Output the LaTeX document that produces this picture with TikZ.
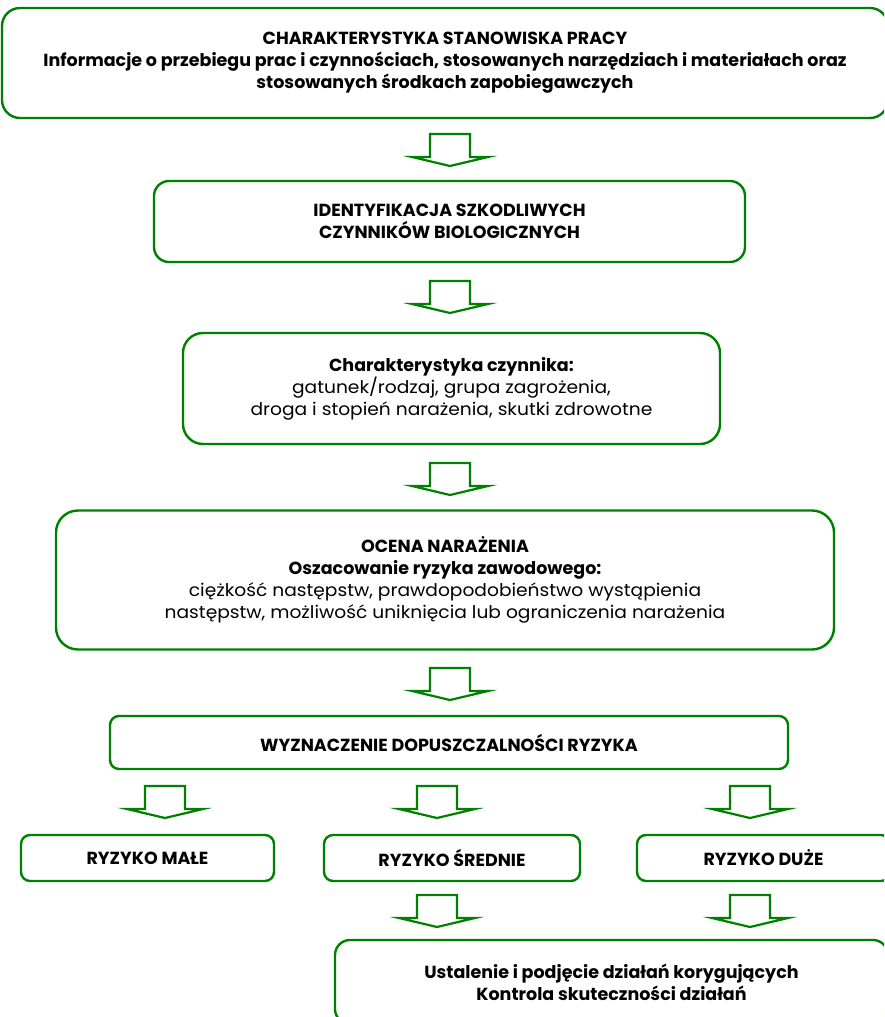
\documentclass[tikz,border=0pt]{standalone}
\usepackage{fontspec}
\setmainfont{Poppins}[UprightFeatures={FakeStretch=1.065}]
\usepackage{tikz}
\usetikzlibrary{calc}

\definecolor{boxgreen}{RGB}{0,128,0}

\tikzset{
  stepbox/.style={draw=boxgreen, line width=2.4pt, align=center, inner sep=2pt,
    font=\fontsize{17.5}{22}\selectfont},
  arrowline/.style={draw=boxgreen, line width=2.2pt, fill=white, line join=miter},
  pics/downarrow/.style={code={
    \draw[arrowline] (-20,0) -- (20,0) -- (20,23) -- (38,23) -- (0,32) -- (-38,23) -- (-20,23) -- cycle;
  }}
}

\begin{document}
\begin{tikzpicture}[x=1pt, y=-1pt]
  \clip (0,0) rectangle (884,1017);

  % boxes
  \node[stepbox, rounded corners=18pt, minimum width=886pt, minimum height=110pt] (charst) at (445,63)
    {\textbf{CHARAKTERYSTYKA STANOWISKA PRACY}\\
     \textbf{Informacje o przebiegu prac i czynnościach, stosowanych narzędziach i materiałach oraz}\\
     \textbf{stosowanych środkach zapobiegawczych}};
  \node[stepbox, rounded corners=15pt, minimum width=591pt, minimum height=81pt] (ident) at (449.5,221.5)
    {\textbf{IDENTYFIKACJA SZKODLIWYCH}\\ \textbf{CZYNNIKÓW BIOLOGICZNYCH}};
  \node[stepbox, rounded corners=20pt, minimum width=537pt, minimum height=111pt] (czyn) at (451.5,388.5)
    {\textbf{Charakterystyka czynnika:}\\
     gatunek/rodzaj, grupa zagrożenia,\\
     droga i stopień narażenia, skutki zdrowotne};
  \node[stepbox, rounded corners=22pt, minimum width=778pt, minimum height=139pt] (ocena) at (445,580)
    {\textbf{OCENA NARAŻENIA}\\
     \textbf{Oszacowanie ryzyka zawodowego:}\\
     ciężkość następstw, prawdopodobieństwo wystąpienia\\
     następstw, możliwość uniknięcia lub ograniczenia narażenia};
  \node[stepbox, rounded corners=9pt, minimum width=678pt, minimum height=53pt] (dopusz) at (449,742.5)
    {\textbf{WYZNACZENIE DOPUSZCZALNOŚCI RYZYKA}};
  \node[stepbox, rounded corners=9pt, minimum width=253pt, minimum height=46pt] (male) at (147.5,858)
    {\textbf{RYZYKO MAŁE}};
  \node[stepbox, rounded corners=9pt, minimum width=256pt, minimum height=46pt] (srednie) at (452,858)
    {\textbf{RYZYKO ŚREDNIE}};
  \node[stepbox, rounded corners=9pt, minimum width=253pt, minimum height=46pt] (duze) at (763.5,858)
    {\textbf{RYZYKO DUŻE}};
  \node[stepbox, rounded corners=15pt, minimum width=553pt, minimum height=84pt] (korekta) at (611.5,982)
    {\textbf{Ustalenie i podjęcie działań korygujących}\\
     \textbf{Kontrola skuteczności działań}};

  % block arrows
  \pic at (450,134) {downarrow};
  \pic at (450,281) {downarrow};
  \pic at (450,463) {downarrow};
  \pic at (450,668) {downarrow};
  \pic at (165,786) {downarrow};
  \pic at (437,786) {downarrow};
  \pic at (750,786) {downarrow};
  \pic at (437,895) {downarrow};
  \pic at (750,895) {downarrow};
\end{tikzpicture}
\end{document}
